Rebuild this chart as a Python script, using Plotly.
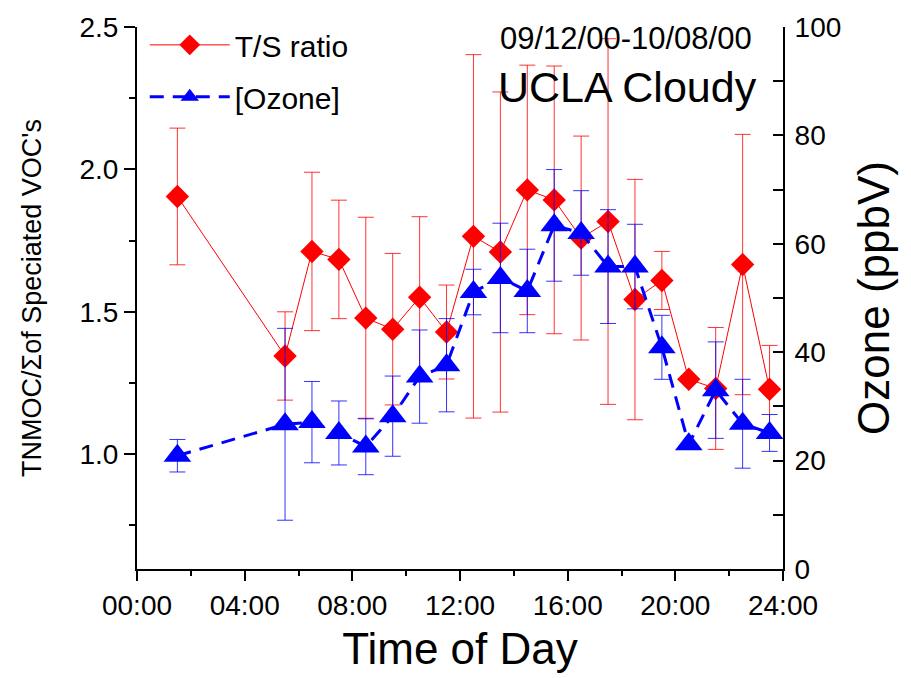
import plotly.graph_objects as go

hours = [1.5, 5.5, 6.5, 7.5, 8.5, 9.5, 10.5, 11.5, 12.5, 13.5,
         14.5, 15.5, 16.5, 17.5, 18.5, 19.5, 20.5, 21.5, 22.5, 23.5]
ts_ratio = [1.905, 1.345, 1.712, 1.684, 1.478, 1.439, 1.551, 1.429, 1.765, 1.710,
            1.928, 1.893, 1.759, 1.817, 1.543, 1.610, 1.263, 1.231, 1.666, 1.228]
ts_err = [0.240, 0.155, 0.278, 0.208, 0.354, 0.266, 0.283, 0.165, 0.638, 0.562,
          0.438, 0.470, 0.358, 0.642, 0.422, 0.102, 0.0, 0.214, 0.457, 0.154]
ozone = [20.9, 26.7, 27.1, 25.1, 22.6, 28.2, 35.5, 37.6, 51.1, 53.7,
         51.3, 63.4, 62.0, 55.8, 55.8, 40.9, 23.0, 33.0, 26.8, 25.1]
ozone_err = [3.0, 17.7, 7.5, 5.9, 5.2, 7.4, 8.6, 8.6, 4.2, 10.1,
             7.7, 10.3, 7.8, 10.5, 7.8, 5.9, 0.0, 8.9, 8.2, 3.4]
x_tickvals = [0, 4, 8, 12, 16, 20, 24]
x_ticktext = ["00:00", "04:00", "08:00", "12:00", "16:00", "20:00", "24:00"]
y_tickvals = [1.0, 1.5, 2.0, 2.5]
y_ticktext = ["1.0", "1.5", "2.0", "2.5"]

FONT = "Liberation Sans, Arial, sans-serif"

fig = go.Figure()
fig.add_trace(go.Scatter(
    x=hours, y=ts_ratio, name="T/S ratio", mode="lines+markers",
    line=dict(color="#ff0000", width=1),
    marker=dict(symbol="diamond", size=18, color="#ff0000"),
    error_y=dict(type="data", array=ts_err, visible=True,
                 color="rgba(255,0,0,0.8)", thickness=1, width=8),
    legendgroup="a",
))
fig.add_trace(go.Scatter(
    x=hours, y=ozone, name="[Ozone]", mode="lines+markers", yaxis="y2",
    line=dict(color="#0000ff", width=3, dash="14px,9px"),
    marker=dict(symbol="triangle-up", size=24, color="#0000ff"),
    error_y=dict(type="data", array=ozone_err, visible=True,
                 color="rgba(0,0,255,0.8)", thickness=1, width=8),
    legendgroup="b",
))

fig.update_layout(
    width=911, height=678,
    margin=dict(l=137, r=128, t=25, b=109),
    paper_bgcolor="white", plot_bgcolor="white",
    font=dict(family=FONT, color="black"),
    showlegend=True,
    legend=dict(x=0.012, y=1.015, xanchor="left", yanchor="top",
                font=dict(size=30, family=FONT), itemwidth=80,
                bgcolor="rgba(0,0,0,0)", traceorder="grouped",
                tracegroupgap=10),
    xaxis=dict(range=[0, 24], tickvals=x_tickvals, ticktext=x_ticktext,
               showgrid=False, zeroline=False, showline=True,
               linecolor="black", linewidth=2, ticks="outside",
               ticklen=10, tickwidth=2, tickcolor="black",
               tickfont=dict(size=28),
               minor=dict(dtick=2, ticks="outside", ticklen=5,
                          tickwidth=2, tickcolor="black", showgrid=False),
               title=dict(text="Time of Day", font=dict(size=44), standoff=14)),
    yaxis=dict(range=[0.597, 2.5], tickvals=y_tickvals, ticktext=y_ticktext,
               showgrid=False, zeroline=False, showline=True,
               linecolor="black", linewidth=2, ticks="outside",
               ticklen=11, tickwidth=2, tickcolor="black",
               tickfont=dict(size=28),
               minor=dict(tick0=0.5, dtick=0.25, ticks="outside", ticklen=6,
                          tickwidth=2, tickcolor="black", showgrid=False),
               title=dict(text="TNMOC/\u03a3of Speciated VOC's",
                          font=dict(size=27), standoff=30)),
    yaxis2=dict(range=[0, 100], overlaying="y", side="right",
                dtick=20, showgrid=False, zeroline=False, showline=True,
                linecolor="black", linewidth=2, ticks="inside",
                ticklen=10, tickwidth=2, tickcolor="black",
                tickfont=dict(size=28), ticklabelstandoff=4,
                minor=dict(dtick=10, ticks="inside", ticklen=10,
                           tickwidth=2, tickcolor="black", showgrid=False),
                title=dict(text="Ozone (ppbV)", font=dict(size=44), standoff=18)),
    annotations=[
        dict(text="09/12/00-10/08/00", xref="paper", yref="paper",
             x=(626 - 137) / 646, y=(569 - 37) / 544, xanchor="center",
             yanchor="middle", showarrow=False, font=dict(size=31)),
        dict(text="UCLA Cloudy", xref="paper", yref="paper",
             x=(627 - 137) / 646, y=(569 - 85) / 544, xanchor="center",
             yanchor="middle", showarrow=False, font=dict(size=43)),
    ],
)

fig.write_html("out.html", config={"displayModeBar": False},
               post_script="document.body.style.margin='0';")
